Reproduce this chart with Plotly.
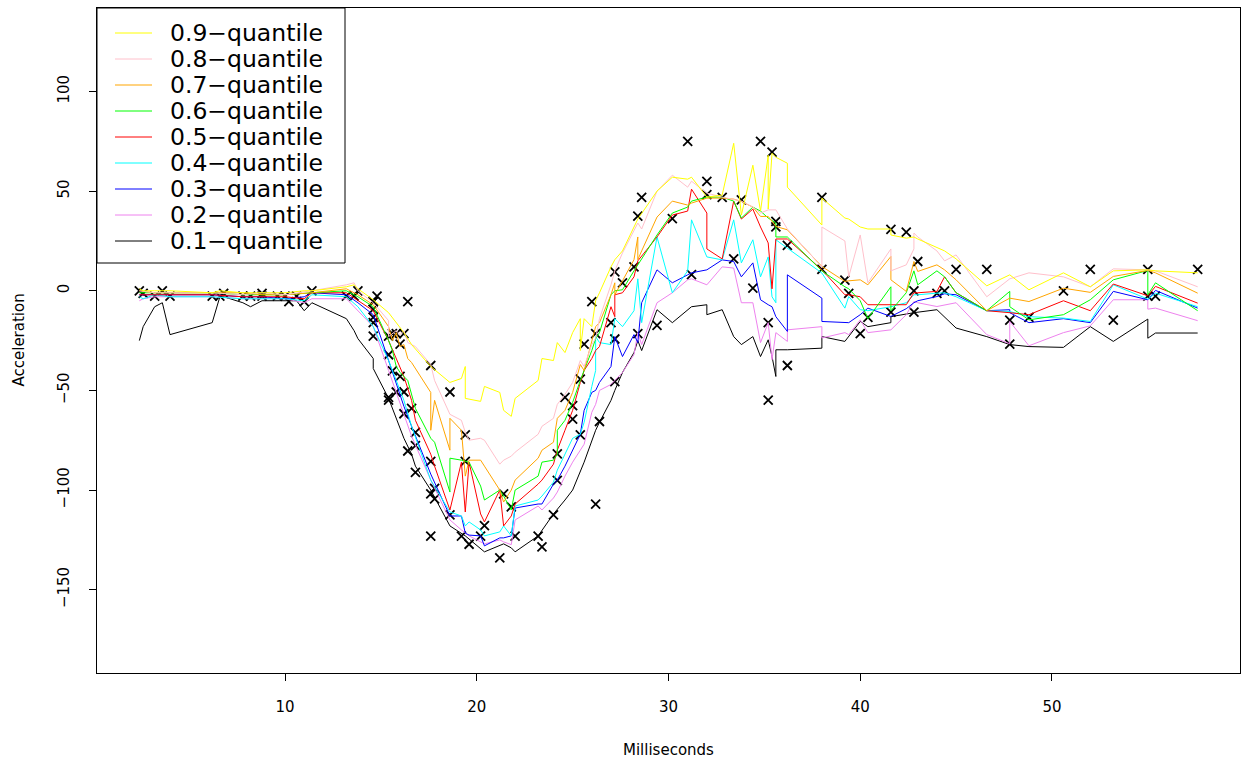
import plotly.graph_objects as go

# mcycle observations
times = [2.4,2.6,3.2,3.6,4.0,6.2,6.6,6.8,7.8,8.2,8.8,8.8,9.6,10.0,10.2,10.6,11.0,11.4,13.2,13.6,
         13.8,14.6,14.6,14.6,14.6,14.6,14.6,14.8,15.4,15.4,15.4,15.4,15.6,15.6,15.8,15.8,16.0,16.0,16.2,16.2,
         16.2,16.4,16.4,16.6,16.8,16.8,16.8,17.6,17.6,17.6,17.6,17.8,17.8,18.6,18.6,19.2,19.4,19.4,19.6,20.2,
         20.4,21.2,21.4,21.8,22.0,23.2,23.4,24.0,24.2,24.2,24.6,25.0,25.0,25.4,25.4,25.6,26.0,26.2,26.2,26.4,
         27.0,27.2,27.2,27.2,27.6,28.2,28.4,28.4,28.6,29.4,30.2,31.0,31.2,32.0,32.0,32.8,33.4,33.8,34.4,34.8,
         35.2,35.2,35.4,35.6,35.6,36.2,36.2,38.0,38.0,39.2,39.4,40.0,40.4,41.6,41.6,42.4,42.8,42.8,43.0,44.0,
         44.4,45.0,46.6,47.8,47.8,48.8,50.6,52.0,53.2,55.0,55.0,55.4,57.6]
accel = [0.0,-1.3,-2.7,0.0,-2.7,-2.7,-2.7,-1.3,-2.7,-2.7,-1.3,-2.7,-2.7,-2.7,-5.4,-2.7,-5.4,0.0,-2.7,-2.7,
         0.0,-13.3,-5.4,-5.4,-9.3,-16.0,-22.8,-2.7,-22.8,-32.1,-53.5,-54.9,-40.2,-21.5,-21.5,-50.8,-42.9,-26.8,-21.5,-50.8,
         -61.7,-5.4,-80.4,-59.0,-71.0,-91.1,-77.7,-37.5,-85.6,-123.1,-101.9,-99.1,-104.4,-112.5,-50.8,-123.1,-85.6,-72.3,-127.2,-123.1,
         -117.9,-134.0,-101.9,-108.4,-123.1,-123.1,-128.5,-112.5,-95.1,-81.8,-53.5,-64.4,-57.6,-72.3,-44.3,-26.8,-5.4,-107.1,-21.5,-65.6,
         -16.0,-45.6,-24.2,9.5,4.0,12.0,-21.5,37.5,46.9,-17.4,36.2,75.0,8.1,54.9,48.2,46.9,16.0,45.6,1.3,75.0,
         -16.0,-54.9,69.6,34.8,32.1,-37.5,22.8,46.9,10.7,5.4,-1.3,-21.5,-13.3,30.8,-10.7,29.4,0.0,-10.7,14.7,-1.3,
         0.0,10.7,10.7,-26.8,-14.7,-13.3,0.0,10.7,-14.7,-2.7,10.7,-2.7,10.7]

# fitted quantile curves (time, acceleration)
q90 = [(2.4,1),(2.6,0),(3.2,0),(3.6,0),(4.0,0),(6.2,-1),(6.6,0),(7.8,-1),(8.8,-1),(10.0,-1),(11.0,0),(11.4,0),(13.2,2),(13.6,3),(13.8,1),
       (14.6,-4.5),(15.4,-11),(16.2,-21),(16.6,-27),(17.6,-38),(18.6,-46),(19.2,-44),(19.4,-38),(19.4,-54),(20.2,-55.5),(20.4,-48),
       (21.2,-51),(21.4,-60),(21.8,-63),(22.0,-54),(23.2,-45),(23.4,-34),(24.0,-35),(24.2,-26),(24.6,-31),(25.0,-21),(25.4,-14),
       (25.4,-30),(25.6,-14),(26.0,-18),(26.2,-5),(26.4,-1),(27.0,12),(27.2,15.6),(27.6,20),(28.4,36),(29.4,50),(30.2,57),(31.0,56),
       (31.2,57),(32.0,47),(32.8,48),(33.4,74),(33.8,38),(34.4,63),(34.8,40),(35.2,68),(35.2,41),(35.4,69),(35.6,67),(36.2,64),
       (36.2,52),(38.0,33),(38.0,46.5),(39.2,36.5),(39.4,36),(40.0,32),(40.4,31),(41.6,31),(41.6,28),(42.4,26.4),(42.8,27),(43.0,26),
       (44.0,22),(44.4,20),(45.0,16),(46.6,2.5),(47.8,8),(48.8,0.5),(50.6,9),(52.0,2),(53.2,10),(55.0,10.5),(55.4,10),(57.6,9)]
q80 = [(2.4,0),(3.2,-1),(4.0,-1),(6.2,-1),(7.8,-2),(8.8,-1),(10.0,-2),(11.4,0),(13.2,3),(13.6,4),(13.8,0),(14.6,-6),(15.4,-15),
       (15.4,-23),(15.8,-20),(16.0,-22),(16.2,-20),(16.4,-26),(16.8,-28),(17.6,-37),(17.8,-45),(18.6,-62),(19.2,-65),(19.4,-71),
       (19.6,-75),(20.2,-74),(20.4,-75),(21.2,-87),(21.4,-85),(21.8,-83),(22.0,-81),(23.2,-72),(23.4,-68),(24.0,-64),(24.2,-57),
       (24.6,-52),(25.0,-46),(25.4,-35),(25.6,-38),(26.0,-27),(26.2,-24),(26.4,-14),(27.0,3),(27.2,10),(27.6,19),(28.4,34),(28.6,31),
       (29.4,50),(30.2,58),(31.0,52),(31.2,55),(32.0,49),(32.8,47),(33.4,46),(33.8,45),(34.4,42),(34.8,39),(35.2,40.6),(35.6,40.6),
       (36.2,31),(38.0,12),(38.0,32),(39.2,25),(39.4,7),(40.0,28),(40.4,4),(41.6,21),(41.6,10),(42.4,13),(42.8,21),(42.8,29),
       (43.0,27),(44.0,20),(44.4,15),(45.0,18),(46.6,-3),(47.8,6),(48.8,9),(50.6,7),(52.0,2),(53.2,11),(55.0,10.5),(55.4,10),(57.6,2)]
q70 = [(2.4,0),(3.2,-1),(4.0,-1),(6.2,-1),(7.8,-1),(8.8,-2),(10.0,-2),(11.4,-1),(13.2,1),(13.8,-2),(14.6,-7),(15.4,-18),(15.6,-25),
       (15.8,-21),(16.0,-28),(16.2,-27),(16.4,-34),(16.6,-36),(16.8,-39),(17.6,-51),(17.6,-70),(17.8,-55),(18.6,-80),(18.6,-64),
       (19.2,-70),(19.4,-93),(19.6,-85),(20.2,-85),(20.4,-88),(21.2,-100),(21.4,-106),(21.8,-100),(22.0,-95),(23.2,-84),(23.4,-80),
       (24.0,-76),(24.2,-64),(24.6,-60),(25.0,-51),(25.4,-37),(25.6,-40),(26.0,-25),(26.2,-18),(26.4,-16),(27.0,-2),(27.2,4),
       (27.2,-2),(27.6,5),(28.2,15.6),(28.4,27),(28.4,15.6),(28.6,20),(29.4,37),(30.2,45),(31.0,43),(31.2,44),(32.0,46.5),
       (32.8,46.5),(33.4,46),(33.8,44.8),(34.4,42),(34.8,37.3),(35.2,37.3),(35.6,32.3),(36.2,30.6),(38.0,12.2),(39.2,4.7),(39.4,5),
       (40.0,5.5),(40.4,3),(41.6,17.2),(41.6,5.5),(42.4,-0.3),(42.8,14.7),(43.0,9.7),(44.0,13),(44.4,10.5),(45.0,5.5),(46.6,-10),
       (47.8,-3.7),(48.8,-5.4),(50.6,1.3),(52.0,-0.8),(53.2,7.2),(55.0,10.2),(55.4,9),(57.6,-1.2)]
q60 = [(2.4,-1),(3.2,-1),(4.0,-1),(6.2,-1),(7.8,-2),(8.8,-2),(10.0,-2),(11.4,-1),(13.2,0),(13.8,-3),(14.6,-8),(15.4,-25),(15.6,-30),
       (15.8,-38),(16.0,-41),(16.4,-45),(16.6,-52),(16.8,-59),(17.6,-74),(17.8,-76),(18.6,-101),(18.6,-84),(19.2,-85),(19.6,-86),
       (20.2,-98),(20.4,-105),(21.2,-100),(21.4,-103),(21.8,-110),(22.0,-100),(23.2,-93),(23.4,-86),(24.0,-85),(24.2,-82),(24.2,-70),
       (24.6,-65),(25.0,-56),(25.4,-45),(26.0,-30),(26.2,-24),(26.4,-21),(27.0,-2),(27.2,0),(27.6,0.5),(28.2,10),(28.4,13),(29.4,28),
       (30.2,39),(31.0,42),(31.2,45),(32.0,47),(32.8,47),(33.4,45),(33.8,36.5),(34.4,42),(34.8,40),(35.2,36.5),(35.6,34),(35.6,27),
       (36.2,27),(38.0,10),(39.2,2),(39.4,1),(40.0,-5),(40.4,-14),(41.6,2),(41.6,-10),(42.4,-1),(42.8,10),(43.0,3),(44.0,10),
       (44.4,7),(45.0,-1),(46.6,-10),(47.8,-0.3),(47.8,-8),(48.8,-14.6),(50.6,-12),(52.0,-4.5),(53.2,5.5),(55.0,10.2),(55.0,-2),
       (55.4,4),(57.6,-10)]
q50 = [(2.4,-2),(3.2,-2),(4.0,-2),(6.2,-2),(7.8,-3),(8.8,-3),(10.0,-3),(11.0,-4),(11.4,-1),(13.2,-1),(13.8,-5),(14.6,-10),(15.4,-25),
       (16.2,-43),(16.6,-55),(16.8,-65),(17.6,-82),(17.8,-88),(18.6,-110),(19.2,-86),(19.4,-111),(19.6,-86),(20.2,-112),(20.4,-116),
       (21.2,-100),(21.4,-118),(21.8,-113),(22.0,-107),(23.2,-97),(23.4,-95),(24.0,-87),(24.2,-80),(24.6,-70),(25.0,-60),(25.4,-46),
       (25.6,-40),(26.0,-34),(26.2,-30),(26.4,-28),(27.0,-8),(27.2,-13),(27.2,-2),(27.6,-1),(28.2,7),(28.4,15),(29.4,27),(30.2,38),
       (31.0,40),(31.2,51),(32.0,39),(32.0,21),(32.8,16),(33.4,45),(33.8,36),(34.4,41),(34.8,32),(35.2,24),(35.4,1),(35.6,26),
       (36.2,26),(38.0,10.5),(39.2,-2),(39.4,-2),(40.0,-3),(40.4,-7),(41.6,-7),(42.4,-7),(42.8,-1),(43.0,-1),(44.0,-0.3),(44.4,7),
       (45.0,-1),(46.6,-10),(47.8,-11),(48.8,-12),(50.6,-5),(52.0,-10),(53.2,3.4),(55.0,-2.5),(55.4,2.2),(57.6,-6.2)]
q40 = [(2.4,-3),(2.6,-4),(3.2,-2),(4.0,-3),(6.2,-3),(7.8,-4),(8.8,-4),(10.0,-4),(11.0,-5),(11.4,-2),(13.2,-3),(13.8,-8),(14.6,-18),
       (15.4,-35),(16.2,-55),(16.6,-68),(17.6,-95),(18.6,-111),(19.2,-113),(19.4,-118),(19.6,-116),(20.2,-120),(20.4,-123),
       (21.2,-121),(21.4,-118),(21.8,-123),(22.0,-108),(23.2,-105),(23.4,-103),(24.0,-96),(24.2,-90),(24.6,-82),(25.0,-74),
       (25.4,-72),(25.6,-66),(26.0,-48),(26.2,-40),(26.2,-23),(26.4,-26),(27.0,-27),(27.2,-14),(27.6,-18),(28.2,-10),(28.4,6),
       (28.6,-16),(29.4,27),(30.2,-1),(31.0,10),(31.2,35.6),(32.0,17),(32.8,15.5),(33.4,35.6),(33.8,14),(34.4,25.6),(34.8,7),
       (35.2,17),(35.4,-3),(35.6,-6),(35.6,25.6),(36.2,21.4),(38.0,8.9),(39.2,-8.7),(39.4,-2.9),(40.0,-9.5),(40.4,-10),(41.6,-8),
       (42.4,-6),(42.8,-2),(43.0,-2),(44.0,-1.2),(44.4,-1),(45.0,-3),(46.6,-10),(47.8,-10.4),(48.8,-13),(50.6,-13.7),(52.0,-15.4),
       (53.2,3),(55.0,-4.2),(55.4,-1.2),(57.6,-8)]
q30 = [(2.4,-2),(3.2,-2),(4.0,-2),(6.2,-2),(7.8,-3),(8.8,-3),(10.0,-4),(11.0,-3),(11.4,-1),(13.2,-2),(13.8,-6),(14.6,-12),(15.4,-35),
       (16.2,-58),(16.6,-68),(17.6,-92),(18.6,-113),(19.2,-113),(19.4,-121.6),(19.6,-122.6),(20.2,-123),(20.4,-128),(21.2,-124),
       (21.4,-124),(21.8,-123),(22.0,-109),(23.2,-107),(23.4,-107),(24.0,-97),(24.2,-95),(24.6,-88),(25.0,-80),(25.4,-72),(25.6,-60),
       (26.0,-51),(26.2,-50),(26.4,-46),(27.0,-38),(27.2,-23),(27.6,-33),(28.2,-22),(28.4,-26),(28.6,-6),(29.4,10.5),(30.2,4),(31.0,8),
       (31.2,9),(32.0,10.5),(32.8,15.5),(33.4,14.7),(33.8,7),(34.4,14),(34.8,-4.5),(35.2,-7),(35.4,-8),(35.6,-13),(36.2,-20.4),
       (36.2,8),(38.0,-3.7),(38.0,-15.4),(39.2,-16),(39.4,-16),(40.0,-12),(40.4,-8.7),(41.6,-12.9),(42.4,-9),(42.8,-6),(43.0,-5),
       (44.0,-2.9),(44.4,-1.5),(45.0,-2),(46.6,-10),(47.8,-9.5),(47.8,-11),(48.8,-16),(50.6,-14),(52.0,-16),(53.2,-0.3),(55.0,-4.5),
       (55.4,0.2),(57.6,-8.7)]
q20 = [(2.4,-5),(2.6,-4),(3.2,-3),(4.0,-3),(6.2,-3),(7.8,-4),(8.8,-4),(10.0,-4),(11.0,-6),(11.4,-4),(13.2,-4),(13.8,-10),(14.6,-18),
       (15.4,-40),(16.2,-62),(16.6,-73),(17.6,-95),(18.6,-115),(19.2,-120),(19.4,-121.6),(19.6,-123),(20.2,-126),(20.4,-127),
       (21.2,-125),(21.4,-126),(21.8,-127.4),(22.0,-115),(23.2,-108),(23.4,-110),(24.0,-104),(24.2,-101),(24.6,-93),(25.0,-86),
       (25.4,-80),(25.6,-77),(26.0,-61),(26.2,-57),(26.4,-50),(27.0,-47),(27.2,-45),(27.6,-41),(28.2,-32),(28.4,-21),(28.6,-27),
       (29.4,-6),(30.2,-1),(31.0,5.5),(31.2,6),(32.0,3),(32.8,12),(33.4,11.4),(33.8,-6),(34.4,-6),(34.8,-26),(35.2,-16),(35.4,-34.6),
       (35.6,-21),(36.2,-25.4),(36.2,-19.6),(38.0,-18),(38.0,-23.7),(39.2,-21),(39.4,-22),(40.0,-14.6),(40.4,-21),(41.6,-19.6),
       (42.4,-12),(42.8,-5.4),(43.0,-6),(44.0,-7.9),(44.4,-7),(45.0,-6),(46.6,-22),(47.8,-26.6),(47.8,-15.4),(48.8,-27.6),(50.6,-21),
       (52.0,-17.6),(53.2,-4.5),(55.0,-4.5),(55.0,-9.2),(55.4,-8.7),(57.6,-15)]
q10 = [(2.4,-25),(2.6,-18),(3.2,-8),(3.6,-6),(4.0,-22),(6.2,-16),(6.6,-3),(6.8,-3),(7.8,-6),(8.2,-8),(8.8,-5),(9.6,-5),(10.0,-5),
       (10.6,-5),(11.0,-10),(11.4,-6),(13.2,-14),(13.6,-20),(13.8,-24),(14.6,-34),(14.6,-39),(15.4,-54),(16.2,-74),(16.6,-82),
       (16.8,-88),(17.6,-100),(18.6,-118),(19.4,-123),(20.4,-131),(21.2,-128),(21.4,-127),(21.8,-129),(22.0,-131),(23.2,-123),
       (24.0,-112),(24.6,-105),(25.0,-100),(25.6,-86),(26.2,-70),(26.4,-66),(27.0,-55),(27.2,-50),(27.6,-41),(28.2,-31),(28.4,-25),
       (28.6,-30),(29.4,-9.5),(30.2,-16),(31.0,-9.5),(31.2,-8),(32.0,-7),(32.0,-12),(32.8,-9.5),(33.4,-23),(33.8,-27),(34.4,-23),
       (34.8,-33),(35.2,-24.6),(35.4,-33),(35.6,-43),(35.6,-29.6),(36.2,-29.6),(38.0,-28.8),(38.0,-23),(39.2,-25.4),(40.0,-15.4),
       (40.4,-18),(41.6,-16),(41.6,-13),(42.8,-11),(44.0,-9.5),(45.0,-18.7),(46.6,-23),(47.8,-27),(48.8,-28),(50.6,-28.4),(52.0,-18),
       (53.2,-25.4),(55.0,-14.2),(55.0,-23.8),(55.4,-21.2),(57.6,-21.2)]

labels = ["0.9\u2212quantile", "0.8\u2212quantile", "0.7\u2212quantile", "0.6\u2212quantile", "0.5\u2212quantile",
          "0.4\u2212quantile", "0.3\u2212quantile", "0.2\u2212quantile", "0.1\u2212quantile"]
curves = [q90, q80, q70, q60, q50, q40, q30, q20, q10]
colors = ["#FFFF00", "#FFC0CB", "#FFA500", "#00FF00", "#FF0000", "#00FFFF", "#0000FF", "#EE82EE", "#000000"]

x_ticks = [10, 20, 30, 40, 50]
y_ticks = [-150, -100, -50, 0, 50, 100]

W, H = 1241, 761
L, R, T, B = 97, 1240, 8, 673  # plot area in pixels
FONT = "DejaVu Sans, Liberation Sans, Arial, sans-serif"

fig = go.Figure()
fig.add_trace(go.Scatter(x=times, y=accel, mode="markers", showlegend=False,
                         marker=dict(symbol="x-thin", size=9, color="black",
                                     line=dict(width=1.8, color="black"))))
for pts, col, lab in list(zip(curves, colors, labels))[::-1]:
    fig.add_trace(go.Scatter(x=[p[0] for p in pts], y=[p[1] for p in pts], mode="lines",
                             name=lab, line=dict(color=col, width=1), showlegend=False))

def px_x(p):
    return (p - L) / (R - L)

def px_y(p):
    return (B - p) / (B - T)

shapes = []
annotations = []
# legend box
shapes.append(dict(type="rect", xref="paper", yref="paper", x0=px_x(97), x1=px_x(345), y0=px_y(263), y1=px_y(8),
                   line=dict(color="black", width=1), fillcolor="white", layer="above"))
row0, step = 33, 26
for i, (lab, col) in enumerate(zip(labels, colors)):
    yy = px_y(row0 + i * step)
    shapes.append(dict(type="line", xref="paper", yref="paper", x0=px_x(115), x1=px_x(152), y0=yy, y1=yy,
                       line=dict(color=col, width=1), layer="above"))
    annotations.append(dict(text=lab, xref="paper", yref="paper", x=px_x(168), y=yy, xanchor="left",
                            yanchor="middle", showarrow=False, font=dict(size=23.5, color="black")))

annotations.append(dict(text="Milliseconds", xref="paper", yref="paper", x=0.5, y=px_y(750),
                        xanchor="center", yanchor="middle", showarrow=False, font=dict(size=15)))
annotations.append(dict(text="Acceleration", xref="paper", yref="paper", x=px_x(18), y=0.5, textangle=-90,
                        xanchor="center", yanchor="middle", showarrow=False, font=dict(size=15)))

fig.update_layout(
    width=W, height=H,
    margin=dict(l=L, r=W - R, t=T, b=H - B, pad=0),
    plot_bgcolor="white", paper_bgcolor="white",
    font=dict(family=FONT, size=15, color="black"),
    showlegend=False,
    shapes=shapes, annotations=annotations,
    xaxis=dict(range=[0.192, 59.808], showgrid=False, zeroline=False, showline=True, mirror=True,
               linecolor="black", linewidth=1, ticks="outside", ticklen=7, tickcolor="black",
               tickvals=x_ticks, ticktext=[str(v) for v in x_ticks], ticklabelstandoff=13,
               tickfont=dict(size=15)),
    yaxis=dict(range=[-191.8, 141.9], showgrid=False, zeroline=False, showline=True, mirror=True,
               linecolor="black", linewidth=1, ticks="outside", ticklen=7, tickcolor="black",
               tickvals=y_ticks, ticktext=[("\u2212" + str(-v)) if v < 0 else str(v) for v in y_ticks],
               tickangle=-90, ticklabelstandoff=14, tickfont=dict(size=15)),
)

fig.write_html("out.html")
